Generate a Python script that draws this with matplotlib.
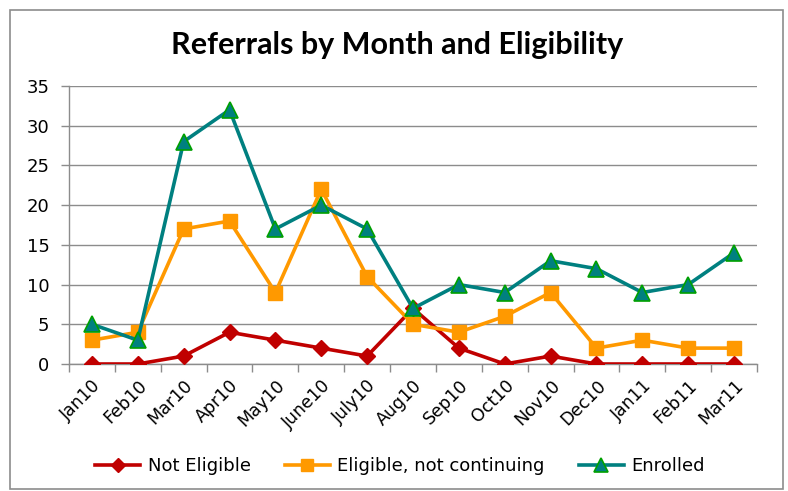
import matplotlib
matplotlib.use("Agg")
import matplotlib.pyplot as plt
import numpy as np
from matplotlib.patches import Rectangle

months = ["Jan10", "Feb10", "Mar10", "Apr10", "May10", "June10", "July10", "Aug10",
          "Sep10", "Oct10", "Nov10", "Dec10", "Jan11", "Feb11", "Mar11"]
not_eligible = [0, 0, 1, 4, 3, 2, 1, 7, 2, 0, 1, 0, 0, 0, 0]
eligible_not_continuing = [3, 4, 17, 18, 9, 22, 11, 5, 4, 6, 9, 2, 3, 2, 2]
enrolled = [5, 3, 28, 32, 17, 20, 17, 7, 10, 9, 13, 12, 9, 10, 14]
yticks = [0, 5, 10, 15, 20, 25, 30, 35]

fig = plt.figure(figsize=(7.88, 4.91), dpi=100)
fig.patch.set_facecolor("white")
fig.patches.append(Rectangle((10/788, 1-489/491), 773/788, 479/491, transform=fig.transFigure,
                             fill=False, edgecolor="#8c8c8c", linewidth=1.2))

ax = fig.add_axes([69/788, 1-364/491, 688/788, 278/491])
x = np.arange(len(months))

ax.plot(x, not_eligible, color="#C00000", linewidth=2.6, marker="D", markersize=8.5,
        markerfacecolor="#C00000", markeredgecolor="#C00000", label="Not Eligible", zorder=3)
ax.plot(x, eligible_not_continuing, color="#FF9900", linewidth=2.6, marker="s", markersize=10.5,
        markerfacecolor="#FF9900", markeredgecolor="#FF9900", label="Eligible, not continuing", zorder=4)
ax.plot(x, enrolled, color="#008080", linewidth=2.6, marker="^", markersize=12,
        markerfacecolor="#008080", markeredgecolor="#00A000", markeredgewidth=1.2,
        label="Enrolled", zorder=5)

ax.set_xlim(-0.5, len(months) - 0.5)
ax.set_ylim(0, 35)
ax.set_yticks(yticks)
ax.set_yticklabels([str(v) for v in yticks], fontsize=13, family="DejaVu Sans")
ax.set_xticks(x)
ax.set_xticklabels(months, rotation=45, ha="right", rotation_mode="anchor", fontsize=12.5,
                   family="DejaVu Sans")
ax.tick_params(axis="x", which="major", length=0, pad=9)
ax.set_xticks(np.arange(-0.5, len(months), 1.0), minor=True)
ax.tick_params(axis="x", which="minor", length=6, color="#8c8c8c", width=1)
ax.tick_params(axis="y", length=6, color="#8c8c8c", width=1, pad=8)

ax.grid(axis="y", color="#8c8c8c", linewidth=1)
ax.set_axisbelow(True)
for s in ["top", "right"]:
    ax.spines[s].set_visible(False)
for s in ["left", "bottom"]:
    ax.spines[s].set_color("#8c8c8c")
    ax.spines[s].set_linewidth(1)

fig.text(397/788, 1-45/491, "Referrals by Month and Eligibility", ha="center", va="center",
         fontsize=22, fontweight="bold", family="Lato")

leg = fig.legend(loc="center", bbox_to_anchor=(400/788, 1-466/491), ncol=3, frameon=False,
                 prop={"family": "DejaVu Sans", "size": 13}, handlelength=2.5, columnspacing=1.9,
                 handletextpad=0.4, markerscale=0.85)

fig.savefig("out.png", dpi=100)
